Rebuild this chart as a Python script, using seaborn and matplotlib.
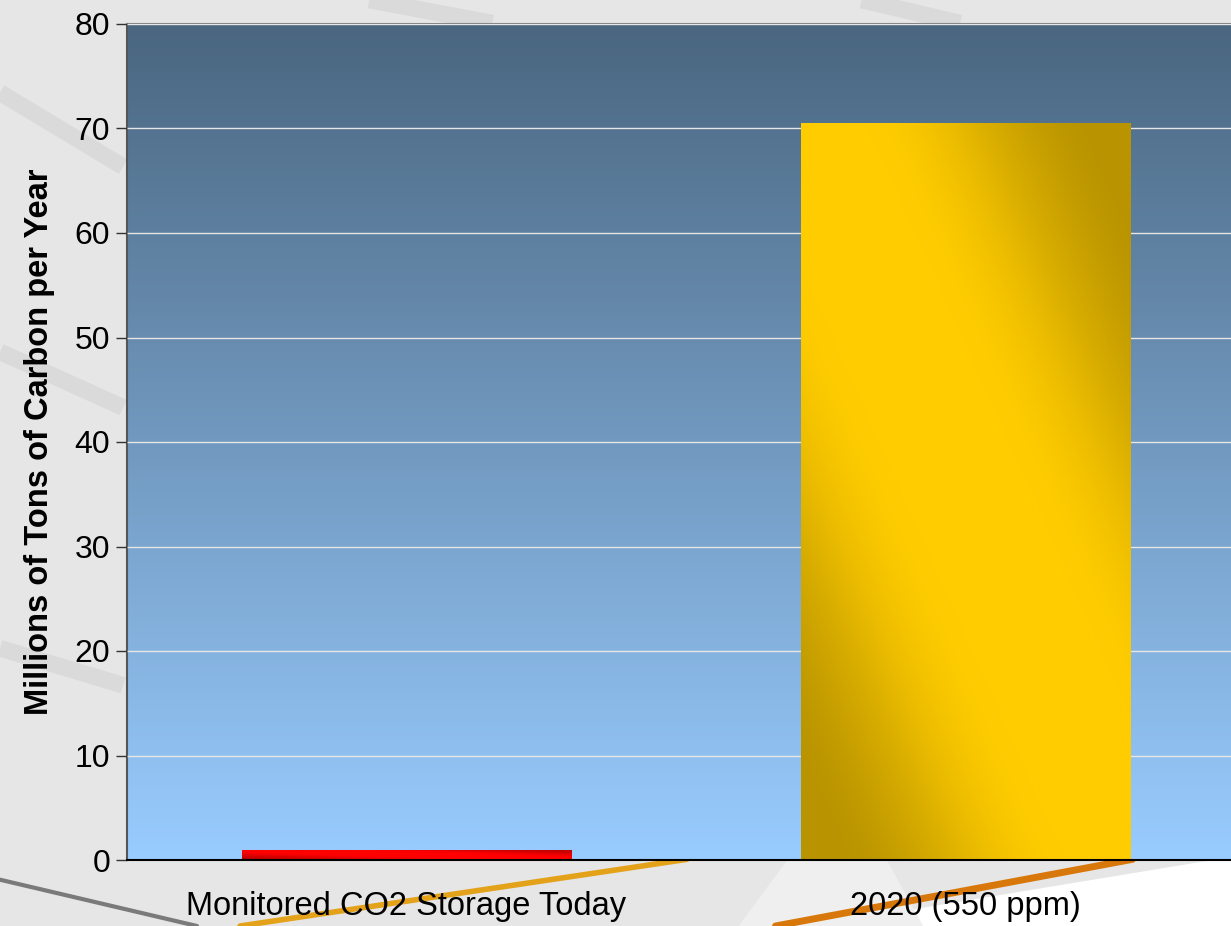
import matplotlib.pyplot as plt
import matplotlib.colors as mcolors
from matplotlib.lines import Line2D
from matplotlib.patches import Polygon
import numpy as np
import pandas as pd
import seaborn as sns

categories = ["Monitored CO2 Storage Today", "2020 (550 ppm)"]
values = [1.0, 70.5]
bar_colors = [("#ff0000", "#c00000"), ("#ffcc00", "#b99400")]
y_ticks = [0, 10, 20, 30, 40, 50, 60, 70, 80]

sns.set_theme(style="white")
plt.rcParams["font.family"] = ["Liberation Sans", "DejaVu Sans"]

fig = plt.figure(figsize=(12.31, 9.26), dpi=100, facecolor="#e6e6e6")

# slide-ish backdrop: white lower right, faint bands, swooshes
fig.add_artist(Polygon([[0.66, 0.0], [1.0, 0.0], [1.0, 0.075]],
                       closed=True, transform=fig.transFigure,
                       facecolor="white", edgecolor="none", zorder=-5))
fig.add_artist(Polygon([[0.60, 0.0], [0.75, 0.0], [0.72, 0.072], [0.64, 0.072]],
                       closed=True, transform=fig.transFigure,
                       facecolor="#efefef", edgecolor="none", zorder=-5))
for (x0, y0, x1, y1) in [(0.0, 0.90, 0.10, 0.82), (0.30, 1.0, 0.40, 0.975),
                         (0.70, 1.0, 0.78, 0.975), (0.0, 0.62, 0.10, 0.56),
                         (0.0, 0.30, 0.10, 0.26)]:
    fig.add_artist(Line2D([x0, x1], [y0, y1], transform=fig.transFigure,
                          color="#dadada", lw=12, zorder=-4,
                          solid_capstyle="butt"))
fig.add_artist(Line2D([0.0, 0.16], [0.05, 0.0], transform=fig.transFigure,
                      color="#7a7a7a", lw=3, zorder=-3))
fig.add_artist(Line2D([0.195, 0.558], [0.0, 0.072], transform=fig.transFigure,
                      color="#e3a21a", lw=4, zorder=-3))
fig.add_artist(Line2D([0.63, 0.92], [0.0, 0.072], transform=fig.transFigure,
                      color="#d9780a", lw=5, zorder=-3))

ax = fig.add_axes([127 / 1231, 66 / 926, 1118 / 1231, 836 / 926])

df = pd.DataFrame({"category": categories, "value": values})
sns.barplot(data=df, x="category", y="value", ax=ax, width=0.59,
            color=bar_colors[1][0], saturation=1, zorder=3)

# background gradient of plot area
top = np.array(mcolors.to_rgb("#4a6680"))
bottom = np.array(mcolors.to_rgb("#99ccff"))
t = np.linspace(0, 1, 256)[:, None]
grad = (bottom * (1 - t) + top * t)[:, None, :]
ax.imshow(grad, extent=[0, 1, 0, 1], transform=ax.transAxes,
          aspect="auto", origin="lower", zorder=0)

# gradient fill for each bar, clipped to the bar
for patch, (bright, dark) in zip(ax.patches, bar_colors):
    x0, w, h = patch.get_x(), patch.get_width(), patch.get_height()
    u = np.linspace(0, 1, 200)[None, :]
    v = np.linspace(0, 1, 400)[:, None]
    d = np.abs(u + v - 1)
    s = np.clip((d - 0.2) / 0.7, 0, 1)
    s = s * s * (3 - 2 * s)
    b, k = np.array(mcolors.to_rgb(bright)), np.array(mcolors.to_rgb(dark))
    img = b * (1 - s[..., None]) + k * s[..., None]
    im = ax.imshow(img, extent=[x0, x0 + w, 0, h], aspect="auto",
                   origin="lower", zorder=4)
    im.set_clip_path(patch)
    patch.set_facecolor(bright)
    patch.set_edgecolor("none")

ax.set_xlim(-0.5, 1.5)
ax.set_ylim(0, 80)
ax.set_yticks(y_ticks)
ax.yaxis.grid(True, color="#e6e6e6", lw=1)
ax.set_axisbelow(False)
for line in ax.get_ygridlines():
    line.set_zorder(1)
ax.set_xticks([-0.5, 0.5, 1.5], minor=True)
ax.tick_params(axis="x", which="major", length=0, labelsize=23.5, pad=22,
               labelcolor="black")
ax.tick_params(axis="x", which="minor", length=8, width=1, color="#333333",
               direction="out")
ax.tick_params(axis="y", length=8, width=1, color="#333333",
               direction="out", labelsize=23, pad=4, left=True,
               labelcolor="black")
ax.set_xlabel("")
ax.set_ylabel("Millions of Tons of Carbon per Year", fontsize=23.5,
              fontweight="bold", labelpad=14, color="black")

ax.spines["left"].set_color("#555555")
ax.spines["left"].set_linewidth(1.5)
ax.spines["bottom"].set_color("black")
ax.spines["bottom"].set_linewidth(1.5)
ax.spines["bottom"].set_zorder(6)
ax.spines["top"].set_color("#888888")
ax.spines["top"].set_linewidth(1.5)
ax.spines["right"].set_visible(False)

fig.savefig("out.png", dpi=100, facecolor=fig.get_facecolor())
